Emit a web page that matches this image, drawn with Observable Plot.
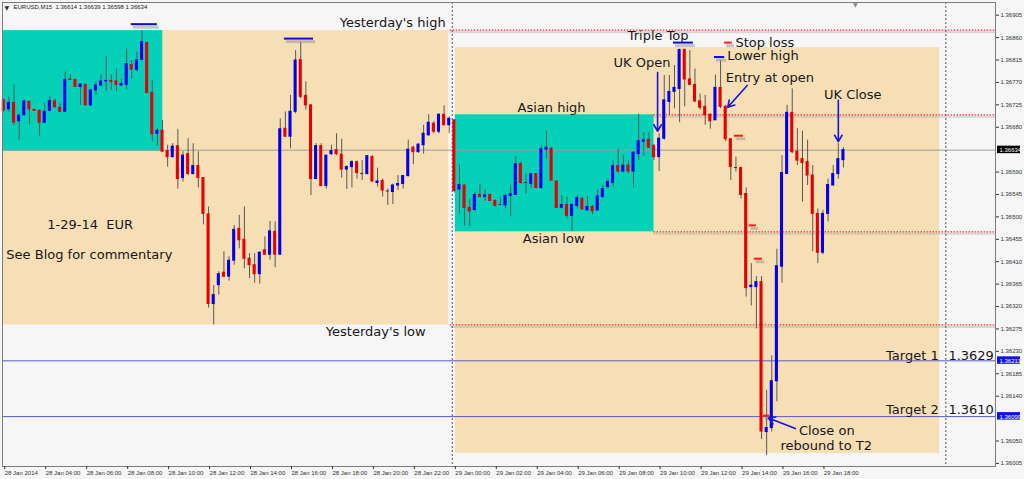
<!DOCTYPE html>
<html><head><meta charset="utf-8">
<script src="https://cdn.jsdelivr.net/npm/d3@7"></script>
<script src="https://cdn.jsdelivr.net/npm/@observablehq/plot@0.6"></script>
<style>
html,body{margin:0;padding:0;background:#f6f6f6;}
svg{display:block}
</style></head><body><div id="chart"></div>
<script>
// ---- Data (EURUSD M15, 28 Jan 02:00 .. 29 Jan 19:00) ----
const opens = [
1.36734,1.36716,1.36729,1.36692,1.36704,1.36731,1.36715,1.36713,1.36689,1.36713,
1.36732,1.36719,1.36711,1.36776,1.36775,1.36761,1.36765,1.36724,1.36754,1.36764,
1.36772,1.36773,1.36772,1.36764,1.36765,1.36805,1.36795,1.36815,1.36849,1.36749,
1.36667,1.36673,1.36632,1.36620,1.36642,1.36578,1.36626,1.36586,1.36602,1.36578,
1.36505,1.36325,1.36363,1.36388,1.36380,1.36412,1.36476,1.36454,1.36416,1.36403,
1.36385,1.36433,1.36424,1.36470,1.36424,1.36677,1.36661,1.36711,1.36815,1.36743,
1.36724,1.36576,1.36642,1.36562,1.36626,1.36634,1.36625,1.36595,1.36600,1.36610,
1.36586,1.36586,1.36620,1.36568,1.36572,1.36551,1.36550,1.36563,1.36566,1.36582,
1.36639,1.36630,1.36644,1.36664,1.36687,1.36671,1.36705,1.36684,
1.36694,1.36555,1.36563,1.36518,1.36514,1.36544,1.36540,1.36544,1.36532,1.36524,
1.36523,1.36542,1.36544,1.36606,1.36568,1.36566,1.36586,1.36558,1.36635,1.36637,
1.36571,1.36518,1.36524,1.36502,1.36522,1.36536,1.36513,1.36520,1.36513,1.36540,
1.36560,1.36568,1.36602,1.36591,1.36603,1.36591,1.36626,1.36651,1.36655,1.36643,
1.36620,1.36657,1.36731,1.36751,1.36757,1.36835,1.36776,1.36765,1.36732,1.36721,
1.36705,1.36694,1.36759,1.36721,1.36656,1.36598,1.36598,1.36546,1.36359,1.36359,
1.36369,1.36068,1.36076,1.36170,1.36400,1.36586,1.36709,1.36631,1.36616,1.36610,
1.36583,1.36506,1.36428,1.36506,1.36563,1.36586,1.36614];
const highs = [
1.36737,1.36741,1.36765,1.36707,1.36734,1.36732,1.36716,1.36714,1.36727,1.36741,
1.36737,1.36727,1.36791,1.36785,1.36777,1.36767,1.36767,1.36756,1.36771,1.36785,
1.36822,1.36785,1.36797,1.36777,1.36837,1.36814,1.36831,1.36874,1.36851,1.36774,
1.36677,1.36694,1.36644,1.36647,1.36676,1.36631,1.36657,1.36647,1.36631,1.36578,
1.36520,1.36362,1.36390,1.36430,1.36420,1.36483,1.36503,1.36520,1.36426,1.36426,
1.36430,1.36460,1.36491,1.36490,1.36697,1.36711,1.36744,1.36834,1.36851,1.36771,
1.36725,1.36647,1.36647,1.36623,1.36644,1.36667,1.36656,1.36603,1.36613,1.36612,
1.36613,1.36623,1.36623,1.36598,1.36576,1.36556,1.36566,1.36583,1.36583,1.36654,
1.36642,1.36647,1.36684,1.36705,1.36692,1.36707,1.36723,1.36701,
1.36694,1.36604,1.36564,1.36536,1.36550,1.36566,1.36555,1.36546,1.36535,1.36540,
1.36546,1.36564,1.36621,1.36610,1.36586,1.36587,1.36587,1.36643,1.36672,1.36639,
1.36573,1.36543,1.36540,1.36526,1.36543,1.36540,1.36541,1.36523,1.36555,1.36564,
1.36576,1.36613,1.36636,1.36623,1.36613,1.36631,1.36706,1.36669,1.36669,1.36644,
1.36667,1.36784,1.36784,1.36804,1.36837,1.36837,1.36834,1.36797,1.36747,1.36744,
1.36707,1.36785,1.36814,1.36724,1.36657,1.36620,1.36600,1.36558,1.36406,1.36380,
1.36380,1.36152,1.36221,1.36435,1.36623,1.36724,1.36757,1.36677,1.36672,1.36654,
1.36603,1.36516,1.36513,1.36576,1.36603,1.36647,1.36639];
const lows = [
1.36711,1.36711,1.36683,1.36654,1.36703,1.36685,1.36712,1.36662,1.36687,1.36711,
1.36719,1.36709,1.36709,1.36774,1.36760,1.36724,1.36723,1.36721,1.36744,1.36761,
1.36751,1.36754,1.36751,1.36761,1.36756,1.36777,1.36791,1.36814,1.36747,1.36651,
1.36643,1.36629,1.36600,1.36618,1.36556,1.36570,1.36583,1.36584,1.36558,1.36484,
1.36317,1.36283,1.36343,1.36378,1.36371,1.36403,1.36436,1.36396,1.36376,1.36367,
1.36365,1.36423,1.36413,1.36398,1.36423,1.36659,1.36637,1.36707,1.36737,1.36714,
1.36543,1.36575,1.36560,1.36556,1.36623,1.36623,1.36578,1.36555,1.36558,1.36576,
1.36573,1.36584,1.36570,1.36560,1.36540,1.36523,1.36525,1.36553,1.36556,1.36580,
1.36605,1.36628,1.36626,1.36661,1.36667,1.36667,1.36683,1.36667,
1.36548,1.36506,1.36482,1.36480,1.36510,1.36538,1.36531,1.36531,1.36520,1.36522,
1.36516,1.36500,1.36543,1.36566,1.36546,1.36556,1.36556,1.36555,1.36616,1.36571,
1.36516,1.36516,1.36496,1.36471,1.36516,1.36513,1.36511,1.36504,1.36511,1.36536,
1.36556,1.36560,1.36588,1.36588,1.36586,1.36558,1.36613,1.36622,1.36637,1.36613,
1.36591,1.36654,1.36704,1.36717,1.36689,1.36721,1.36763,1.36729,1.36714,1.36684,
1.36676,1.36693,1.36717,1.36651,1.36573,1.36590,1.36536,1.36339,1.36321,1.36275,
1.36053,1.36021,1.36068,1.36129,1.36367,1.36586,1.36627,1.36603,1.36530,1.36563,
1.36430,1.36406,1.36424,1.36490,1.36562,1.36576,1.36598];
const closes = [
1.36713,1.36729,1.36689,1.36703,1.36732,1.36716,1.36713,1.36689,1.36711,1.36733,
1.36720,1.36711,1.36775,1.36775,1.36761,1.36766,1.36724,1.36754,1.36764,1.36772,
1.36773,1.36771,1.36765,1.36767,1.36807,1.36796,1.36814,1.36851,1.36749,1.36666,
1.36673,1.36631,1.36620,1.36641,1.36576,1.36623,1.36586,1.36602,1.36578,1.36506,
1.36325,1.36343,1.36385,1.36380,1.36412,1.36474,1.36453,1.36416,1.36403,1.36385,
1.36428,1.36424,1.36471,1.36424,1.36676,1.36661,1.36711,1.36814,1.36741,1.36724,
1.36576,1.36642,1.36562,1.36623,1.36632,1.36626,1.36595,1.36600,1.36610,1.36588,
1.36586,1.36622,1.36571,1.36571,1.36553,1.36551,1.36563,1.36566,1.36582,1.36635,
1.36630,1.36645,1.36667,1.36689,1.36671,1.36705,1.36684,1.36697,
1.36552,1.36564,1.36518,1.36511,1.36544,1.36540,1.36543,1.36532,1.36522,1.36524,
1.36542,1.36546,1.36606,1.36568,1.36568,1.36586,1.36558,1.36636,1.36639,1.36573,
1.36518,1.36524,1.36502,1.36524,1.36538,1.36515,1.36520,1.36511,1.36541,1.36556,
1.36570,1.36602,1.36591,1.36603,1.36591,1.36629,1.36652,1.36654,1.36639,1.36620,
1.36657,1.36734,1.36751,1.36759,1.36835,1.36776,1.36765,1.36732,1.36719,1.36704,
1.36692,1.36759,1.36721,1.36656,1.36600,1.36598,1.36544,1.36357,1.36362,1.36369,
1.36069,1.36076,1.36170,1.36401,1.36588,1.36709,1.36630,1.36613,1.36608,1.36583,
1.36506,1.36428,1.36506,1.36564,1.36586,1.36616,1.36634];

const timeTickIdx = [0,8,16,24,32,40,48,56,64,72,80,88,96,104,112,120,128,136,144,152,160];
const timeTickLabels = ["28 Jan 2014","28 Jan 04:00","28 Jan 06:00","28 Jan 08:00","28 Jan 10:00","28 Jan 12:00",
  "28 Jan 14:00","28 Jan 16:00","28 Jan 18:00","28 Jan 20:00","28 Jan 22:00","29 Jan 00:00","29 Jan 02:00",
  "29 Jan 04:00","29 Jan 06:00","29 Jan 08:00","29 Jan 10:00","29 Jan 12:00","29 Jan 14:00","29 Jan 16:00","29 Jan 18:00"];
const priceTicks = [1.36905,1.36860,1.36815,1.36770,1.36725,1.36680,1.36590,1.36545,1.36500,1.36455,
  1.36410,1.36365,1.36320,1.36275,1.36230,1.36185,1.36140,1.36050,1.36005];
const headerText = "EURUSD,M15  1.36614 1.36639 1.36598 1.36634";
const lastPrice = 1.36634;
const targets = [1.36211, 1.36099];
const priceTags = [{v: 1.36634, bg: "#000000"}, {v: 1.36211, bg: "#1010e8"}, {v: 1.36099, bg: "#1010e8"}];
const separators = [87.6, 184.0];

const sessions = [
  {x1: -0.25, x2: 86.9, y1: 1.36283, y2: 1.36874, fill: "#f6dfb5"},
  {x1: -0.25, x2: 31.05, y1: 1.36632, y2: 1.36874, fill: "#04d1b7"},
  {x1: 88.2, x2: 182.8, y1: 1.36025, y2: 1.36840, fill: "#f6dfb5"},
  {x1: 88.2, x2: 127.0, y1: 1.36470, y2: 1.36705, fill: "#04d1b7"}
];
const levels = [
  {y: 1.36875, x1: 87.2, x2: 193.7},
  {y: 1.36283, x1: 87.2, x2: 193.7},
  {y: 1.36705, x1: 127.0, x2: 193.7},
  {y: 1.36470, x1: 127.0, x2: 193.7}
];
const markers = [
  {x1: 24.9, x2: 30.0, y: 1.36887, color: "#0a0aee"},
  {x1: 54.8, x2: 60.5, y: 1.36858, color: "#0a0aee"},
  {x1: 130.8, x2: 134.7, y: 1.36850, color: "#0a0aee"},
  {x1: 138.8, x2: 140.8, y: 1.36821, color: "#0a0aee"},
  {x1: 140.8, x2: 142.3, y: 1.36850, color: "#ff1a1a"},
  {x1: 142.7, x2: 144.5, y: 1.36663, color: "#ff1a1a"},
  {x1: 145.6, x2: 147.0, y: 1.36483, color: "#ff1a1a"},
  {x1: 146.6, x2: 148.2, y: 1.36416, color: "#ff1a1a"},
  {x1: 148.4, x2: 149.6, y: 1.36101, color: "#ff1a1a"}
];
const notes = [
  {x: 86.3, y: 1.36890, text: "Yesterday's high", anchor: "end"},
  {x: 82.4, y: 1.36269, text: "Yesterday's low", anchor: "end"},
  {x: 8.5, y: 1.36485, text: "1-29-14\u00a0\u00a0EUR", anchor: "start"},
  {x: 0.5, y: 1.36423, text: "See Blog for commentary", anchor: "start"},
  {x: 107.0, y: 1.36720, text: "Asian high", anchor: "middle"},
  {x: 107.4, y: 1.36455, text: "Asian low", anchor: "middle"},
  {x: 127.8, y: 1.36864, text: "Triple Top", anchor: "middle"},
  {x: 142.9, y: 1.36850, text: "Stop loss", anchor: "start"},
  {x: 141.3, y: 1.36823, text: "Lower high", anchor: "start"},
  {x: 141.0, y: 1.36779, text: "Entry at open", anchor: "start"},
  {x: 119.1, y: 1.36810, text: "UK Open", anchor: "start"},
  {x: 160.2, y: 1.36746, text: "UK Close", anchor: "start"},
  {x: 182.6, y: 1.36221, text: "Target 1", anchor: "end"},
  {x: 184.5, y: 1.36221, text: "1.3629", anchor: "start"},
  {x: 182.6, y: 1.36113, text: "Target 2", anchor: "end"},
  {x: 184.5, y: 1.36113, text: "1.3610", anchor: "start"},
  {x: 155.3, y: 1.36071, text: "Close on", anchor: "start"},
  {x: 151.7, y: 1.36040, text: "rebound to T2", anchor: "start"}
];
const arrows = [
  {x1: 127.7, y1: 1.36790, x2: 127.7, y2: 1.36672},
  {x1: 145.2, y1: 1.36764, x2: 141.4, y2: 1.36720},
  {x1: 163.0, y1: 1.36734, x2: 163.0, y2: 1.36651},
  {x1: 154.6, y1: 1.36075, x2: 149.35, y2: 1.36096}
];

// ---- Build ----
const candles = opens.map((o, i) => ({i, o, h: highs[i], l: lows[i], c: closes[i]}));
const tickLabel = new Map(timeTickIdx.map((d, i) => [d, timeTickLabels[i]]));
const xMin = -0.25, xMax = 193.7;
const yMin = 1.359988, yMax = 1.369305;
const FONT = "'DejaVu Sans', Verdana, sans-serif";
const SMALL = "'Liberation Sans', Arial, sans-serif";
const BLUE = "#0000ee", RED = "#e80000";

const textMark = (anchor) => Plot.text(notes.filter(d => d.anchor === anchor), {
  x: "x", y: "y", text: "text", textAnchor: anchor, fontFamily: FONT, fontSize: 13, fill: "#161616"
});

const chart = Plot.plot({
  width: 1024, height: 479,
  marginTop: 2, marginRight: 29, marginBottom: 13, marginLeft: 2,
  style: {background: "#f6f6f6", fontFamily: SMALL, fontSize: "6px", color: "#222", overflow: "visible"},
  x: {type: "linear", domain: [xMin, xMax], axis: null, label: null},
  y: {type: "linear", domain: [yMin, yMax], axis: null, label: null},
  marks: [
    Plot.rect(sessions, {x1: "x1", x2: "x2", y1: "y1", y2: "y2", fill: "fill"}),
    Plot.ruleY([lastPrice], {stroke: "#9c9c9c"}),
    Plot.ruleY(targets, {stroke: "#5a5ac8"}),
    Plot.ruleY(levels, {y: "y", x1: "x1", x2: "x2", dy: 2, stroke: "#a8a8a8", strokeOpacity: 0.4, strokeWidth: 2}),
    Plot.ruleY(levels, {y: "y", x1: "x1", x2: "x2", stroke: "#ff2a2a", strokeDasharray: "1.5,1.5", strokeWidth: 1.3}),
    Plot.ruleX(separators, {stroke: "#555", strokeDasharray: "2,2"}),
    Plot.ruleX(candles, {x: "i", y1: "l", y2: "h", stroke: "#585858"}),
    Plot.rect(candles, {
      x1: d => d.i - 0.3, x2: d => d.i + 0.3, y1: "o", y2: "c",
      insetTop: -0.5, insetBottom: -0.5,
      fill: d => d.c > d.o ? BLUE : d.c < d.o ? RED : "#303030"
    }),
    Plot.ruleY(markers, {y: "y", x1: "x1", x2: "x2", dx: 2, dy: 3, stroke: "#8a8a8a", strokeOpacity: 0.45, strokeWidth: 3}),
    Plot.ruleY(markers, {y: "y", x1: "x1", x2: "x2", stroke: "color", strokeWidth: 2}),
    textMark("start"), textMark("middle"), textMark("end"),
    Plot.arrow(arrows, {x1: "x1", y1: "y1", x2: "x2", y2: "y2", stroke: "#1414e6", strokeWidth: 1.6, headLength: 7}),
    Plot.frame({stroke: "#7c7c7c"}),
    Plot.axisX({ticks: timeTickIdx, anchor: "bottom", tickSize: 3, tickPadding: 1, label: null,
      tickFormat: d => tickLabel.get(d), textAnchor: "start", dx: 1, fontSize: 6, fontFamily: SMALL, color: "#333"}),
    Plot.axisY({ticks: priceTicks, anchor: "right", tickSize: 3, tickPadding: 2, label: null,
      tickFormat: d => d.toFixed(5), fontSize: 6, fontFamily: SMALL, color: "#333"}),
    Plot.rect(priceTags, {x1: d => xMax, x2: d => xMax, y1: "v", y2: "v",
      insetLeft: 2, insetRight: -25, insetTop: -4, insetBottom: -3.5, fill: "bg"}),
    Plot.text(priceTags, {x: d => xMax, y: "v", text: d => d.v.toFixed(5), dx: 4, textAnchor: "start", fill: "#ffffff", fontSize: 6, fontFamily: SMALL}),
    Plot.text([headerText], {text: d => d, frameAnchor: "top-left", dx: 11, dy: 2, fontSize: 6, fontFamily: SMALL, fill: "#222"}),
    Plot.text(["\u25BC"], {text: d => d, frameAnchor: "top-left", dx: 2, dy: 3, fontSize: 6, fill: "#333", fontFamily: FONT}),
    Plot.text(["\u25BC"], {text: d => d, x: d => 166.3, frameAnchor: "top", dy: 0, fontSize: 6, fill: "#7f8c99", fontFamily: FONT})
  ]
});
document.getElementById("chart").appendChild(chart);
</script>
</body></html>
